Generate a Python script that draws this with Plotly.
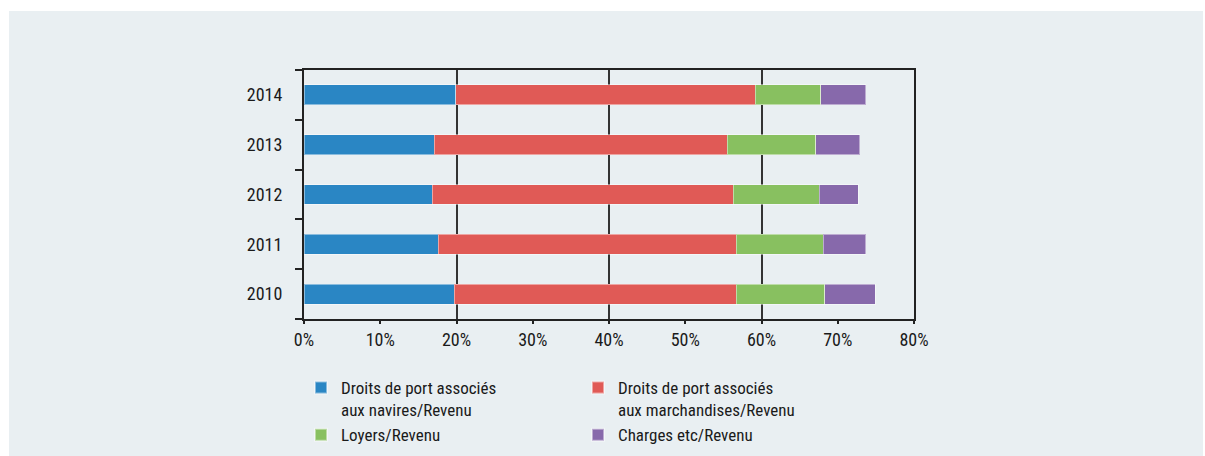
import plotly.graph_objects as go

years = ["2010", "2011", "2012", "2013", "2014"]
navires = [19.7, 17.6, 16.8, 17.05, 19.9]
marchandises = [37.0, 39.1, 39.5, 38.45, 39.3]
loyers = [11.6, 11.4, 11.3, 11.6, 8.6]
charges = [6.6, 5.6, 5.1, 5.8, 5.9]

series_names = [
    "Droits de port associés<br>aux navires/Revenu",
    "Droits de port associés<br>aux marchandises/Revenu",
    "Loyers/Revenu",
    "Charges etc/Revenu",
]
series_values = [navires, marchandises, loyers, charges]
colors = ["#2a86c4", "#e05a56", "#88c060", "#8769ab"]
x_ticks = [0, 10, 20, 30, 40, 50, 60, 70, 80]

FONT = "Liberation Sans Narrow, Arial Narrow, Roboto Condensed, Liberation Sans, Arial, sans-serif"

fig = go.Figure()
for name, vals, col in zip(series_names, series_values, colors):
    fig.add_trace(go.Bar(
        y=years, x=vals, name=name, orientation="h",
        marker=dict(color=col, line=dict(color="rgba(255,255,255,0.45)", width=1)),
        width=0.4,
    ))
# empty helper trace so the overlaying label axis (x2) is drawn
fig.add_trace(go.Scatter(x=[], y=[], xaxis="x2", yaxis="y",
                         showlegend=False, hoverinfo="skip"))

W, H = 1205, 456
L, R, T, B = 304, 291, 70, 137
pw, ph = W - L - R, H - T - B

fig.update_layout(
    width=W, height=H,
    barmode="stack",
    paper_bgcolor="white",
    plot_bgcolor="white",
    margin=dict(l=L, r=R, t=T, b=B, pad=0, autoexpand=False),
    font=dict(family=FONT, size=17, color="#1a1a1a"),
    showlegend=True,
    legend=dict(
        orientation="h",
        xref="container", x=301 / W, xanchor="left",
        yref="container", y=1 - 370 / H, yanchor="top",
        entrywidth=232, entrywidthmode="pixels",
        traceorder="normal", valign="top",
        font=dict(family=FONT, size=17, color="#1a1a1a"),
        bgcolor="rgba(0,0,0,0)", itemsizing="constant",
    ),
    xaxis=dict(
        range=[0, 80], tickmode="array", tickvals=x_ticks[::2],
        showticklabels=False, ticks="",
        showgrid=True, gridcolor="#333333", gridwidth=1.5,
        showline=True, linecolor="#222222", linewidth=2, mirror=True,
        zeroline=False, fixedrange=True,
    ),
    xaxis2=dict(
        overlaying="x", anchor="y", side="bottom", range=[0, 80],
        tickmode="array", tickvals=x_ticks,
        ticktext=[f"{v}%" for v in x_ticks],
        ticks="outside", ticklen=4, tickwidth=1.5, tickcolor="#222222",
        showgrid=False, showline=False, zeroline=False,
        tickfont=dict(family=FONT, size=18, color="#1a1a1a"),
    ),
    yaxis=dict(
        type="category", categoryorder="array", categoryarray=years,
        ticks="outside", tickson="boundaries", ticklen=7, tickwidth=1.5,
        tickcolor="#222222", ticklabelstandoff=16,
        showgrid=False, showline=True, linecolor="#222222", linewidth=2,
        mirror=True, zeroline=False,
        tickfont=dict(family=FONT, size=18, color="#1a1a1a"),
    ),
    shapes=[dict(
        type="rect", xref="paper", yref="paper", layer="below",
        x0=(9 - L) / pw, x1=(1203 - L) / pw,
        y0=-(456 - (T + ph)) / ph, y1=1 + (T - 11) / ph,
        fillcolor="#e9eff2", line=dict(width=0),
    )],
)

fig.write_html(
    "out.html",
    config={"displayModeBar": False},
    post_script="document.body.style.margin='0';document.body.style.overflow='hidden';",
)
